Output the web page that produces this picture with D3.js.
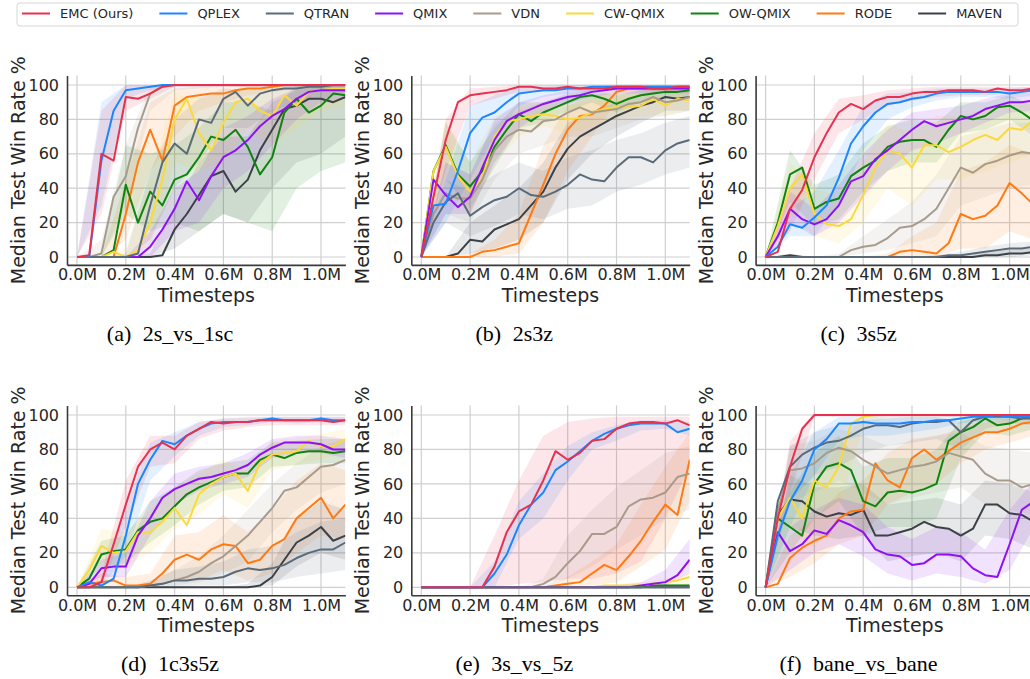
<!DOCTYPE html>
<html>
<head>
<meta charset="utf-8">
<script src="https://cdn.jsdelivr.net/npm/d3@7"></script>
<style>
body{margin:0;background:#fff}
svg{display:block}
</style>
</head>
<body>
<svg></svg>
<script>
// 方法与颜色
var methods = ["EMC (Ours)","QPLEX","QTRAN","QMIX","VDN","CW-QMIX","OW-QMIX","RODE","MAVEN"]
var colors = ["#e8304f","#1c86ff","#5a6a78","#8f10f5","#a89b8b","#fcd93a","#0e840e","#ff7a12","#3b4147"]
var captions = [["(a)","2s_vs_1sc"],["(b)","2s3z"],["(c)","3s5z"],["(d)","1c3s5z"],["(e)","3s_vs_5z"],["(f)","bane_vs_bane"]]
var xTicks = [0,0.2,0.4,0.6,0.8,1.0]
var xTickLabels = ["0.0M","0.2M","0.4M","0.6M","0.8M","1.0M"]
var yTicks = [0,20,40,60,80,100]
// 中位数的时间点 (M)
var steps = [0,0.05,0.1,0.15,0.2,0.25,0.3,0.35,0.4,0.45,0.5,0.55,0.6,0.65,0.7,0.75,0.8,0.85,0.9,0.95,1.0,1.05,1.1]
// 阴影带的时间点 (M)
var bandSteps = [0,0.1,0.2,0.3,0.4,0.5,0.6,0.7,0.8,0.9,1.0,1.1]

// (a) 2s_vs_1sc
var medA = [
[0,1,60,56,93,92,95,99,100,100,100,100,100,100,100,100,100,100,100,100,100,100,100],
[0,0,56,85,97,98,99,100,100,100,100,100,100,100,100,100,100,100,100,100,100,100,100],
[0,0,0,0,0,2,30,55,66,60,80,78,92,96,88,95,97,98,98,99,99,100,100],
[0,0,0,0,0,0,6,16,28,44,33,47,58,62,68,76,82,86,92,96,97,97,97],
[0,0,2,35,47,75,95,99,100,100,100,100,100,100,100,100,100,100,100,100,100,100,100],
[0,0,0,3,0,4,20,45,80,92,72,62,78,90,92,85,82,94,88,96,97,98,98],
[0,0,0,4,42,20,38,30,45,48,58,70,68,74,64,48,58,84,92,84,88,95,94],
[0,0,0,0,25,55,74,56,88,93,94,95,95,97,98,98,99,100,100,100,100,100,100],
[0,0,0,0,0,0,0,1,16,25,36,47,50,38,45,62,74,86,88,92,92,90,93]]
var loA = [
[0,25,85,92,99,99,99,99,99,99,99,99],
[0,30,92,97,99,99,99,99,99,99,99,99],
[0,0,0,10,40,55,75,75,85,90,92,95],
[0,0,0,0,15,20,40,50,65,80,90,92],
[0,0,30,85,97,98,99,99,99,99,99,99],
[0,0,0,5,55,50,55,75,65,75,85,88],
[0,0,25,15,20,15,25,20,15,40,50,55],
[0,0,10,50,70,85,90,94,96,98,98,98],
[0,0,0,0,5,15,25,20,40,55,60,70]]
var hiA = [
[0,85,100,100,100,100,100,100,100,100,100,100],
[0,90,100,100,100,100,100,100,100,100,100,100],
[0,0,2,50,80,92,98,97,99,100,100,100],
[0,0,0,15,40,50,75,82,92,98,100,100],
[0,10,65,100,100,100,100,100,100,100,100,100],
[0,0,5,45,95,92,95,100,97,99,100,100],
[0,0,65,60,65,75,90,90,85,100,100,100],
[0,0,45,90,98,99,99,100,100,100,100,100],
[0,0,0,2,30,55,70,70,90,97,99,100]]

// (b) 2s3z
var medB = [
[0,35,68,90,94,95,96,97,99,99,98,98,99,98,98,98,99,99,99,98,98,99,99],
[0,30,31,50,72,81,84,90,95,96,97,97,98,98,99,99,99,99,99,99,99,99,99],
[0,20,32,37,24,29,33,35,40,36,35,38,42,48,45,44,52,58,58,55,62,66,68],
[0,45,36,29,35,52,68,79,83,86,89,91,93,94,96,97,98,98,98,98,98,98,98],
[0,25,37,34,34,45,62,70,74,73,79,80,84,87,84,85,86,89,90,93,90,91,93],
[0,50,64,47,38,46,70,79,80,82,83,82,80,81,84,86,87,87,88,92,88,92,91],
[0,50,65,48,41,50,64,74,83,79,84,87,90,93,94,92,89,92,94,95,96,96,97],
[0,0,0,0,0,3,4,6,8,25,42,60,74,82,83,88,96,98,98,98,98,99,99],
[0,0,0,2,10,9,16,19,22,30,38,52,63,70,74,78,82,85,88,90,93,92,93]]
var loB = [
[0,50,88,92,96,96,97,96,97,97,96,97],
[0,20,45,70,88,93,95,96,97,97,97,97],
[0,20,12,18,25,22,28,30,38,42,48,52],
[0,25,25,55,75,84,89,93,95,95,95,95],
[0,25,20,45,60,65,70,70,75,80,82,85],
[0,40,25,55,70,76,72,76,80,82,82,85],
[0,45,28,52,75,78,85,90,84,90,92,93],
[0,0,0,0,2,20,50,70,90,95,95,96],
[0,0,2,5,10,20,45,60,70,78,85,85]]
var hiB = [
[0,80,98,99,100,100,100,100,100,100,100,100],
[0,45,88,94,99,99,100,100,100,100,100,100],
[0,45,38,48,55,50,58,62,68,72,78,82],
[0,55,48,80,90,94,97,99,100,100,100,100],
[0,55,48,78,85,90,94,94,95,97,97,98],
[0,80,55,82,88,90,88,91,93,94,94,96],
[0,78,55,75,90,90,95,97,94,97,99,99],
[0,0,2,10,25,65,88,93,99,100,100,100],
[0,0,20,30,40,55,78,85,90,95,97,97]]

// (c) 3s5z
var medC = [
[0,3,28,39,58,72,84,89,86,91,93,93,95,96,96,97,97,97,96,98,97,97,98],
[0,6,19,17,23,30,46,66,76,84,89,90,92,93,95,96,96,96,96,96,95,96,97],
[0,0,0,0,0,0,0,0,0,0,0,0,0,0,0,1,1,2,3,4,5,5,6],
[0,12,28,22,19,22,30,44,47,57,62,68,74,79,76,78,80,82,86,88,90,90,91],
[0,0,0,0,0,0,0,4,6,7,11,17,18,22,28,40,52,49,54,56,59,61,60],
[0,18,40,48,25,19,18,22,36,52,62,60,52,65,65,61,64,68,71,68,75,74,80],
[0,20,48,52,28,32,34,47,52,56,64,67,68,68,64,74,82,80,82,87,88,84,79],
[0,0,0,0,0,0,0,0,0,0,0,3,4,3,2,8,25,22,24,30,43,37,30],
[0,0,1,0,0,0,0,0,0,0,0,0,0,0,0,0,0,0,1,1,2,2,3]]
var loC = [
[0,15,45,72,80,88,91,93,94,94,95,95],
[0,12,12,30,62,80,87,91,93,93,92,94],
[0,0,0,0,0,0,0,0,0,1,2,3],
[0,20,12,20,35,50,62,66,72,78,84,85],
[0,0,0,0,2,4,8,12,30,35,40,42],
[0,25,12,8,20,40,30,45,45,50,55,60],
[0,32,18,22,38,50,55,55,72,74,80,70],
[0,0,0,0,0,0,0,0,5,5,15,10],
[0,0,0,0,0,0,0,0,0,0,0,1]]
var hiC = [
[0,40,72,92,94,97,98,99,99,99,99,99],
[0,28,38,62,88,95,96,98,98,98,98,99],
[0,0,0,0,0,0,0,1,3,6,8,9],
[0,38,28,42,60,74,84,86,88,92,95,95],
[0,0,0,2,12,22,32,48,70,74,78,78],
[0,55,40,35,55,78,72,82,82,86,88,90],
[0,62,42,48,66,76,80,78,90,90,94,88],
[0,0,0,0,0,2,12,20,50,55,65,60],
[0,2,0,0,0,0,0,1,1,3,4,5]]

// (d) 1c3s5z
var medD = [
[0,0,3,25,48,70,80,84,80,88,92,96,95,96,96,97,97,97,97,97,97,96,97],
[0,3,1,5,30,60,74,85,83,88,92,95,96,96,96,97,98,97,97,97,98,97,97],
[0,0,0,0,0,0,1,2,4,4,5,5,6,9,11,10,11,13,17,20,22,22,26],
[0,2,11,12,12,30,40,52,57,60,63,64,66,68,71,77,81,84,84,84,83,80,80],
[0,0,0,0,0,0,1,2,4,6,9,14,18,24,30,38,46,56,58,64,70,71,74],
[0,10,24,20,21,32,32,38,46,36,54,60,64,66,56,72,77,78,79,85,82,82,86],
[0,5,19,21,22,33,38,40,47,54,58,61,64,66,66,74,77,75,78,79,79,78,79],
[0,2,3,4,1,1,2,8,16,19,16,22,25,24,14,16,24,28,40,46,52,40,48],
[0,0,0,0,0,0,0,0,0,0,0,0,0,0,0,1,6,16,26,30,35,27,30]]
var loD = [
[0,0,35,70,72,86,91,93,94,94,94,94],
[0,0,18,62,76,88,93,94,96,95,96,95],
[0,0,0,0,0,1,1,3,3,6,8,10],
[0,6,6,30,48,56,60,64,75,78,78,75],
[0,0,0,0,1,3,8,15,32,45,55,60],
[0,14,12,20,34,42,54,46,68,71,74,78],
[0,11,14,26,36,48,56,58,70,71,72,72],
[0,0,0,0,4,4,10,4,8,20,30,28],
[0,0,0,0,0,0,0,0,1,12,20,16]]
var hiD = [
[0,8,62,88,88,96,98,99,99,99,99,99],
[0,4,45,84,90,96,98,98,99,99,99,99],
[0,0,0,4,10,12,15,22,24,32,38,40],
[0,16,20,50,66,70,72,78,86,88,88,86],
[0,0,0,3,10,18,30,45,60,72,82,86],
[0,34,32,45,58,66,74,68,85,87,89,92],
[0,27,30,50,58,68,72,74,84,85,86,86],
[0,8,6,8,30,32,42,32,45,62,72,68],
[0,0,0,0,0,0,0,2,14,40,50,45]]

// (e) 3s_vs_5z
var medE = [
[0,0,0,0,0,0,12,32,44,48,62,79,74,78,85,86,92,95,96,96,95,97,94],
[0,0,0,0,0,0,8,19,36,48,55,68,73,79,85,89,92,94,95,95,95,90,92],
[0,0,0,0,0,0,0,0,0,0,0,0,0,0,0,0,0,0,0,0,0,0,0],
[0,0,0,0,0,0,0,0,0,0,0,0,0,0,0,0,0,0,1,2,3,7,16],
[0,0,0,0,0,0,0,0,0,0,2,6,14,21,31,31,35,47,51,52,55,64,66],
[0,0,0,0,0,0,0,0,0,0,0,0,0,0,0,1,1,1,1,2,3,4,6],
[0,0,0,0,0,0,0,0,0,0,0,0,0,0,0,0,0,0,0,1,1,1,1],
[0,0,0,0,0,0,0,0,0,0,0,1,2,3,8,13,10,18,27,38,48,42,74],
[0,0,0,0,0,0,0,0,0,0,0,0,0,0,0,0,0,0,0,0,0,0,0]]
var loE = [
[0,0,0,0,2,3,5,5,8,15,40,70],
[0,0,0,0,28,40,62,80,85,91,92,88],
[0,0,0,0,0,0,0,0,0,0,0,0],
[0,0,0,0,0,0,0,0,0,0,1,8],
[0,0,0,0,0,0,5,12,22,30,40,45],
[0,0,0,0,0,0,0,0,0,0,0,1],
[0,0,0,0,0,0,0,0,0,0,0,0],
[0,0,0,0,0,0,0,1,3,12,22,50],
[0,0,0,0,0,0,0,0,0,0,0,0]]
var hiE = [
[0,0,0,30,62,88,96,98,99,99,99,99],
[0,0,0,15,50,66,82,90,94,97,97,96],
[0,0,0,0,0,0,0,0,0,0,0,0],
[0,0,0,0,0,0,0,0,1,3,10,28],
[0,0,0,0,0,5,30,45,58,68,78,82],
[0,0,0,0,0,0,0,0,2,3,5,8],
[0,0,0,0,0,0,0,0,0,2,2,2],
[0,0,0,0,0,0,6,15,25,48,70,90],
[0,0,0,0,0,0,0,0,0,0,0,0]]

// (f) bane_vs_bane
var medF = [
[0,40,70,92,100,100,100,100,100,100,100,100,100,100,100,100,100,100,100,100,100,100,100],
[0,30,50,62,80,86,95,95,96,95,95,95,96,96,97,97,98,99,99,100,99,99,99],
[0,50,70,77,81,84,85,88,92,94,94,93,95,96,96,97,90,97,99,99,99,98,98],
[0,32,21,25,33,31,39,36,32,22,19,18,13,14,19,19,18,11,7,6,25,45,50],
[0,45,68,69,72,78,81,79,74,70,66,68,70,71,73,78,76,74,66,62,62,58,60],
[0,40,52,40,62,58,70,95,99,100,100,100,100,100,100,100,100,100,100,100,100,100,100],
[0,40,35,30,60,70,72,68,50,47,55,56,55,57,60,85,90,93,98,94,95,98,99],
[0,2,17,23,27,30,40,44,45,72,62,58,75,80,74,79,84,87,90,90,92,95,96],
[0,42,51,50,44,41,43,42,45,30,30,32,34,38,35,34,30,34,48,48,43,42,38]]
var loF = [
[0,55,99,99,99,99,99,99,99,99,99,99],
[0,35,65,85,88,88,90,92,95,97,97,97],
[0,50,65,70,78,82,84,86,80,92,95,94],
[0,10,20,25,18,8,4,8,6,2,10,35],
[0,50,55,62,55,48,52,55,58,48,45,42],
[0,35,22,45,92,99,99,99,99,99,99,99],
[0,20,40,50,30,35,35,40,75,90,88,92],
[0,6,14,25,30,48,55,60,72,80,84,88],
[0,35,30,28,30,15,18,20,15,30,28,22]]
var hiF = [
[0,85,100,100,100,100,100,100,100,100,100,100],
[0,65,90,99,99,99,99,99,100,100,100,100],
[0,82,90,94,97,98,99,99,96,100,100,100],
[0,35,45,52,48,35,28,35,32,22,45,62],
[0,82,85,92,88,82,85,88,90,82,80,78],
[0,68,58,82,100,100,100,100,100,100,100,100],
[0,55,78,88,70,75,75,80,97,100,99,100],
[0,30,40,55,62,78,86,88,92,96,98,99],
[0,65,58,58,60,48,50,52,48,62,60,55]]

var panels = [[medA,loA,hiA],[medB,loB,hiB],[medC,loC,hiC],[medD,loD,hiD],[medE,loE,hiE],[medF,loF,hiF]]

var svg = d3.select('svg')
.attr('width',1030)
.attr('height',679)
.style('font-family','"DejaVu Sans", sans-serif')

// 画线顺序：EMC 最后
var drawOrder = [8,7,6,5,4,3,2,1,0]

panels.forEach(function(p, i){
  var col = i % 3, row = Math.floor(i / 3)
  var x0 = 77 + col * 344.3
  var yZero = row == 0 ? 257 : 587.3
  var yHundred = row == 0 ? 85 : 415
  var k = (yZero - yHundred) / 100
  var x = d3.scaleLinear().domain([-0.041, 1.1]).range([x0 - 10, x0 + 1.1 * 244])
  var y = d3.scaleLinear().domain([-4.6, 105.5]).range([yZero + 4.6 * k, yZero - 105.5 * k])
  var left = x(-0.041), right = x(1.1), top = y(105.5), bottom = y(-4.6)

  var g = svg.append('g')

  // 网格
  g.selectAll('.vgrid').data(xTicks).enter().append('line')
  .attr('x1', d => x(d)).attr('x2', d => x(d))
  .attr('y1', top).attr('y2', bottom)
  .attr('stroke','#cfcfcf').attr('stroke-width',1.2)
  g.selectAll('.hgrid').data(yTicks).enter().append('line')
  .attr('x1', left).attr('x2', right)
  .attr('y1', d => y(d)).attr('y2', d => y(d))
  .attr('stroke','#cfcfcf').attr('stroke-width',1.2)

  var clipId = 'clip' + i
  svg.append('clipPath').attr('id', clipId).append('rect')
  .attr('x', left).attr('y', top).attr('width', right - left).attr('height', bottom - top)

  var plot = g.append('g').attr('clip-path','url(#' + clipId + ')')

  // 阴影带
  var area = d3.area()
  .x((d, j) => x(bandSteps[j]))
  .y0(d => y(d[0]))
  .y1(d => y(d[1]))
  drawOrder.forEach(function(s){
    var band = bandSteps.map((t, j) => [p[1][s][j], p[2][s][j]])
    plot.append('path')
    .attr('d', area(band))
    .attr('fill', colors[s])
    .attr('fill-opacity', 0.12)
  })

  // 中位数曲线
  var line = d3.line()
  .x((d, j) => x(steps[j]))
  .y(d => y(d))
  drawOrder.forEach(function(s){
    plot.append('path')
    .attr('d', line(p[0][s]))
    .attr('fill','none')
    .attr('stroke', colors[s])
    .attr('stroke-width', 2)
    .attr('stroke-linejoin','round')
  })

  // 坐标轴
  var xAxis = d3.axisBottom(x).tickValues(xTicks)
  .tickFormat((d, j) => xTickLabels[j]).tickSize(0).tickPadding(4)
  var yAxis = d3.axisLeft(y).tickValues(yTicks).tickSize(0).tickPadding(8)
  var gx = g.append('g').attr('transform','translate(0,' + bottom + ')').call(xAxis)
  var gy = g.append('g').attr('transform','translate(' + left + ',0)').call(yAxis)
  ;[gx, gy].forEach(function(a){
    a.select('.domain').attr('stroke','#3a3a3a').attr('stroke-width',1.6)
    a.selectAll('text').attr('font-size',16).attr('fill','#262626')
      .attr('font-family','"DejaVu Sans", sans-serif')
  })

  // 轴标题
  g.append('text')
  .attr('transform','translate(' + (left - 49) + ',' + ((top + bottom) / 2) + ') rotate(-90)')
  .attr('text-anchor','middle').attr('dy','0.35em')
  .attr('font-size',19).attr('fill','#262626')
  .text('Median Test Win Rate %')
  g.append('text')
  .attr('x', (left + right) / 2).attr('y', bottom + 30)
  .attr('text-anchor','middle').attr('dy','0.35em')
  .attr('font-size',19).attr('fill','#262626')
  .text('Timesteps')

  // 子图标题
  var cap = g.append('text')
  .attr('x', x0 + 93).attr('y', bottom + 68)
  .attr('text-anchor','middle').attr('dy','0.35em')
  .attr('font-family','"Liberation Serif", "Times New Roman", serif')
  .attr('font-size',22).attr('fill','#000')
  cap.append('tspan').text(captions[i][0])
  cap.append('tspan').attr('dx',6).text(' ' + captions[i][1])
})

// 图例
svg.append('rect')
.attr('x',17).attr('y',3).attr('width',1001).attr('height',23).attr('rx',3)
.attr('fill','#fff').attr('stroke','#d6d6d6').attr('stroke-width',1)
var lx = 22
methods.forEach(function(m, s){
  svg.append('line')
  .attr('x1', lx).attr('x2', lx + 28).attr('y1', 13.5).attr('y2', 13.5)
  .attr('stroke', colors[s]).attr('stroke-width', 2)
  var t = svg.append('text')
  .attr('x', lx + 38).attr('y', 13.5).attr('dy','0.35em')
  .attr('font-size',13).attr('fill','#262626')
  .text(m)
  lx = lx + 38 + t.node().getComputedTextLength() + 26
})
</script>
</body>
</html>
